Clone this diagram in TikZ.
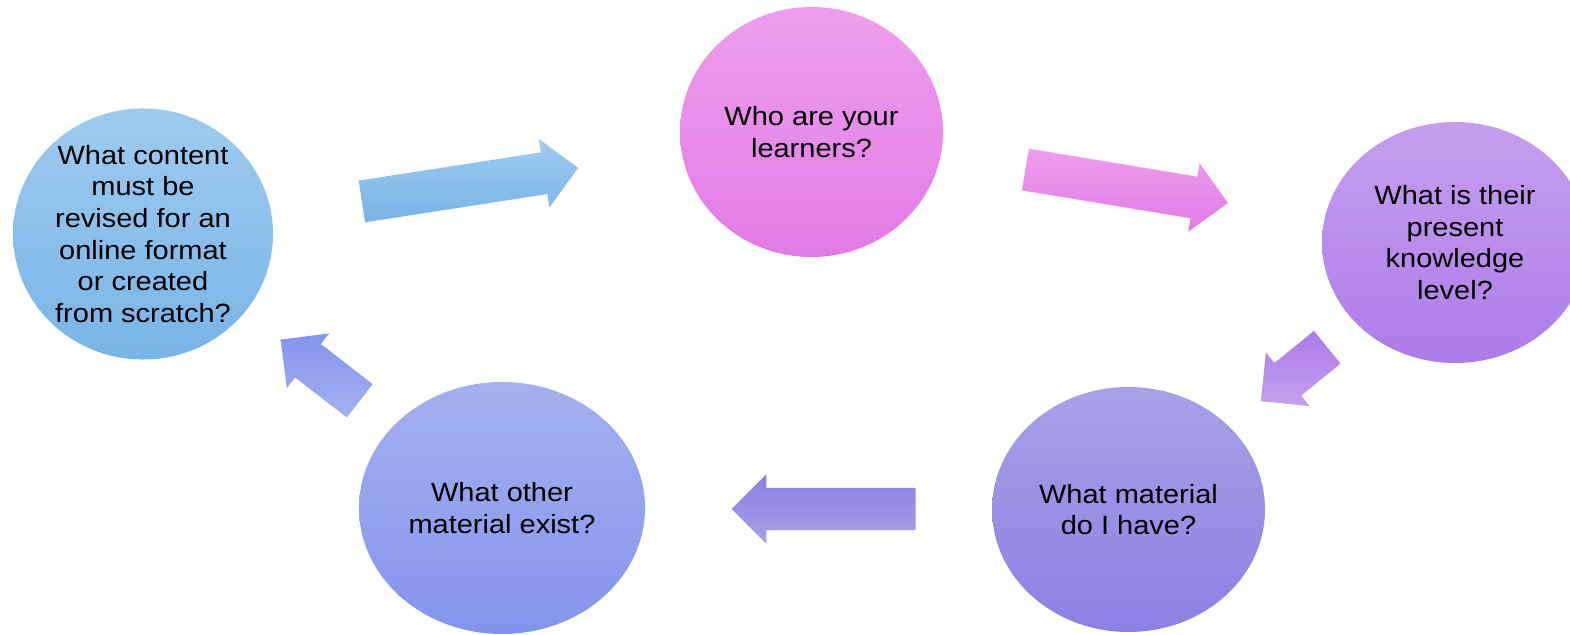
\documentclass[tikz,border=0pt]{standalone}
\usepackage{fontspec}
\setmainfont{Liberation Sans}[FakeStretch=1.1]
\usetikzlibrary{shapes.geometric, shapes.arrows}
\definecolor{bluetop}{HTML}{9FCBF0}
\definecolor{bluebot}{HTML}{78B4E6}
\definecolor{pinktop}{HTML}{EE9EEE}
\definecolor{pinkbot}{HTML}{E27AE6}
\definecolor{lilactop}{HTML}{C59EEE}
\definecolor{lilacbot}{HTML}{AE7CEA}
\definecolor{violettop}{HTML}{A8A0E8}
\definecolor{violetbot}{HTML}{8C80E2}
\definecolor{periwtop}{HTML}{A4B0F0}
\definecolor{periwbot}{HTML}{8494EC}
\tikzset{question/.style={ellipse, draw=none, inner sep=0pt, align=center,
                          font=\fontsize{15pt}{18pt}\selectfont},
         blockarrow/.style={single arrow, draw=none, anchor=tail, inner xsep=0pt, inner ysep=4.15mm,
                            minimum width=0pt, single arrow head extend=2.7mm},
        }

\begin{document}
\begin{tikzpicture}
        \useasboundingbox (0,0) rectangle (31.4,12.7);

        \node[question, top color=bluetop, bottom color=bluebot, minimum width=5.2cm, minimum height=4.76cm](content)at(2.86,8.02){What content\\must be\\revised for an\\online format\\or created\\from scratch?};
        \node[question, top color=pinktop, bottom color=pinkbot, minimum width=5.26cm, minimum height=5cm](learners)at(16.23,10.06){Who are your\\learners?};
        \node[question, top color=lilactop, bottom color=lilacbot, minimum width=5.32cm, minimum height=4.82cm](knowledge)at(29.1,7.85){What is their\\present\\knowledge\\level?};
        \node[question, top color=violettop, bottom color=violetbot, minimum width=5.46cm, minimum height=4.9cm](material)at(22.57,2.51){What material\\do I have?};
        \node[question, top color=periwtop, bottom color=periwbot, minimum width=5.72cm, minimum height=5.04cm](other)at(10.04,2.54){What other\\material exist?};

        \node[blockarrow, rotate=8.8, minimum height=4.38cm, top color=bluetop, bottom color=bluebot](c2l)at(7.23,8.67){};
        \node[blockarrow, rotate=-9.4, minimum height=4.11cm, top color=pinktop, bottom color=pinkbot](l2k)at(20.5,9.31){};
        \node[blockarrow, rotate=219.1, minimum height=1.71cm, top color=lilacbot, bottom color=lilactop](k2m)at(26.55,5.76){};
        \node[blockarrow, rotate=180, minimum height=3.68cm, top color=violetbot, bottom color=violettop](m2o)at(18.32,2.52){};
        \node[blockarrow, rotate=142.3, minimum height=2cm, top color=periwbot, bottom color=periwtop](o2c)at(7.2,4.68){};
    \end{tikzpicture}
\end{document}
